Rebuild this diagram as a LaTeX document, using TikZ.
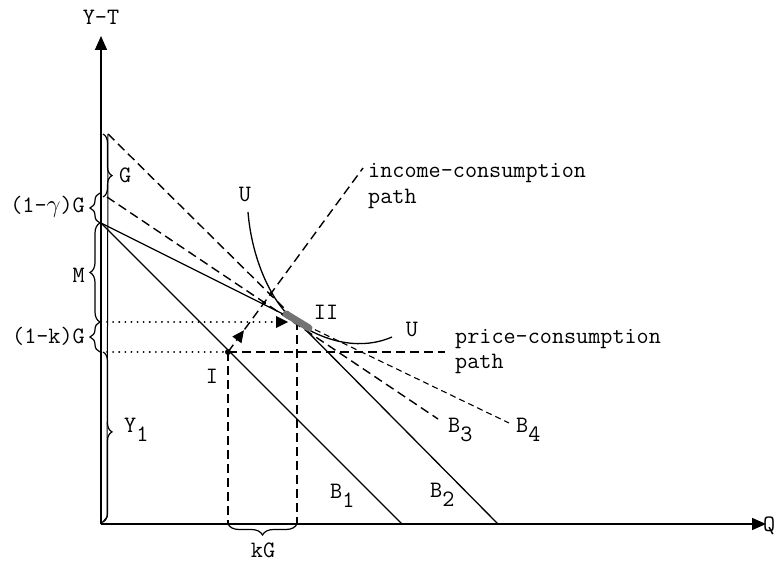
\documentclass[tikz,border=0pt]{standalone}
\usepackage{fontspec}
\usetikzlibrary{arrows.meta,decorations.pathreplacing,decorations.markings}
\newcommand{\sbx}[1]{\raisebox{-0.42em}{#1}}
\begin{document}
\begin{tikzpicture}[x=1pt,y=-1pt,
  lbl/.style={font=\ttfamily\fontsize{23.5}{26}\selectfont, inner sep=0pt},
  axis/.style={line width=1.5pt,-{Triangle[width=12pt,length=14pt]}},
  budget/.style={line width=1.3pt},
  bigdash/.style={line width=1.4pt,dash pattern=on 9pt off 5pt},
  smalldash/.style={line width=1.1pt,dash pattern=on 6pt off 4pt},
  pathdash/.style={line width=1.4pt,dash pattern=on 9pt off 5pt},
  dotline/.style={line width=2pt,dash pattern=on 0.1pt off 6pt,line cap=round},
  brc/.style={decorate,line width=1.2pt},
  dotpt/.style={circle,fill,inner sep=0pt,minimum size=#1},
]
\useasboundingbox (0,0) rectangle (778,561);
% coordinates
\coordinate (O) at (101,524);
\coordinate (Ytop) at (101,36);
\coordinate (Xend) at (766,524);
\coordinate (A) at (101,223);
\coordinate (Gtop) at (108,134);
\coordinate (GyTop) at (107,197);
\coordinate (I) at (228,352);
\coordinate (II) at (297,321);
\coordinate (B1x) at (402,524);
\coordinate (B2x) at (498,524);
\coordinate (B3e) at (438,419);
\coordinate (B4e) at (509,423);
\coordinate (Ib) at (228,524);
\coordinate (IIb) at (297,524);
\coordinate (PCe) at (445,352);
\coordinate (ICe) at (363,168);
\coordinate (L1) at (107,322);
\coordinate (L2) at (107,352);
\coordinate (arrT) at (288,322);
\coordinate (Vb) at (107,517);
% axes
\draw[axis] (O) -- (Ytop);
\draw[axis] (O) -- (Xend);
\draw[line width=1pt] (Gtop) -- (Vb) -- (O);
% braces
\draw[brc,decoration={brace,amplitude=9pt,aspect=0.66}] (103,134) -- (103,197);
\draw[brc,decoration={brace,amplitude=10pt,aspect=0.5}] (100,223) -- (100,193);
\draw[brc,decoration={brace,amplitude=10pt,aspect=0.5}] (100,322) -- (100,223);
\draw[brc,decoration={brace,amplitude=10pt,aspect=0.5}] (100,352) -- (100,322);
\draw[brc,decoration={brace,amplitude=9pt,aspect=0.47}] (103,352) -- (103,522);
\draw[brc,decoration={brace,amplitude=11pt,aspect=0.5}] (297,524) -- (228,524);
% budget lines
\draw[budget] (A) -- (B1x);
\draw[budget] (A) -- (II) -- (B2x);
\draw[bigdash] (Gtop) -- (II);
\draw[bigdash] (GyTop) -- (B3e);
\draw[smalldash] (II) -- (B4e);
% dotted guides
\draw[dotline] (L1) -- (arrT);
\fill (arrT) -- ++(-12,-6) -- ++(0,12) -- cycle;
\draw[dotline] (L2) -- (I);
% dashed verticals and paths
\draw[pathdash] (I) -- (Ib);
\draw[pathdash] (II) -- (IIb);
\draw[pathdash] (I) -- (PCe);
\draw[pathdash,postaction={decorate,decoration={markings,mark=at position 27pt with {\arrow{Triangle[width=11pt,length=12pt]}}}}] (I) -- (ICe);
% indifference curve
\draw[line width=1.3pt] (248,212) .. controls (252,262) and (274,308) .. (299,324) .. controls (328,343) and (362,350) .. (392,337);
% points
\draw[black!55,line width=7pt,line cap=round] (286,314) -- (309,328);
\node[dotpt=6pt] (Ipt) at (I) {};
\node[dotpt=4pt] (d1) at (264,303) {};
\node[dotpt=4pt] (d2) at (271,294) {};
% labels
\node[lbl,anchor=base] (yt) at (101,25) {Y-T};
\node[lbl,anchor=base west] (q) at (763,531) {Q};
\node[lbl,anchor=base west] (gl) at (119,183) {G};
\node[lbl,anchor=base east] (gg) at (85,213) {(1-\(\gamma\))G};
\node[lbl,anchor=base east] (ml) at (85,282) {M};
\node[lbl,anchor=base east] (kl) at (85,343) {(1-k)G};
\node[lbl,anchor=base west] (y1) at (124,432) {Y\sbx{1}};
\node[lbl,anchor=base] (kg) at (263,557) {kG};
\node[lbl,anchor=base] (u1) at (245,202) {U};
\node[lbl,anchor=base] (u2) at (412,336) {U};
\node[lbl,anchor=base] (iil) at (326,319) {II};
\node[lbl,anchor=base] (il) at (212,383) {I};
\node[lbl,anchor=base west] (b1) at (330,498) {B\sbx{1}};
\node[lbl,anchor=base west] (b2) at (430,497) {B\sbx{2}};
\node[lbl,anchor=base west] (b3) at (448,432) {B\sbx{3}};
\node[lbl,anchor=base west] (b4) at (516,432) {B\sbx{4}};
\node[lbl,anchor=base west] (ic1) at (368,178) {income-consumption};
\node[lbl,anchor=base west] (ic2) at (368,204) {path};
\node[lbl,anchor=base west] (pc1) at (455,343) {price-consumption};
\node[lbl,anchor=base west] (pc2) at (455,368) {path};
\end{tikzpicture}
\end{document}
